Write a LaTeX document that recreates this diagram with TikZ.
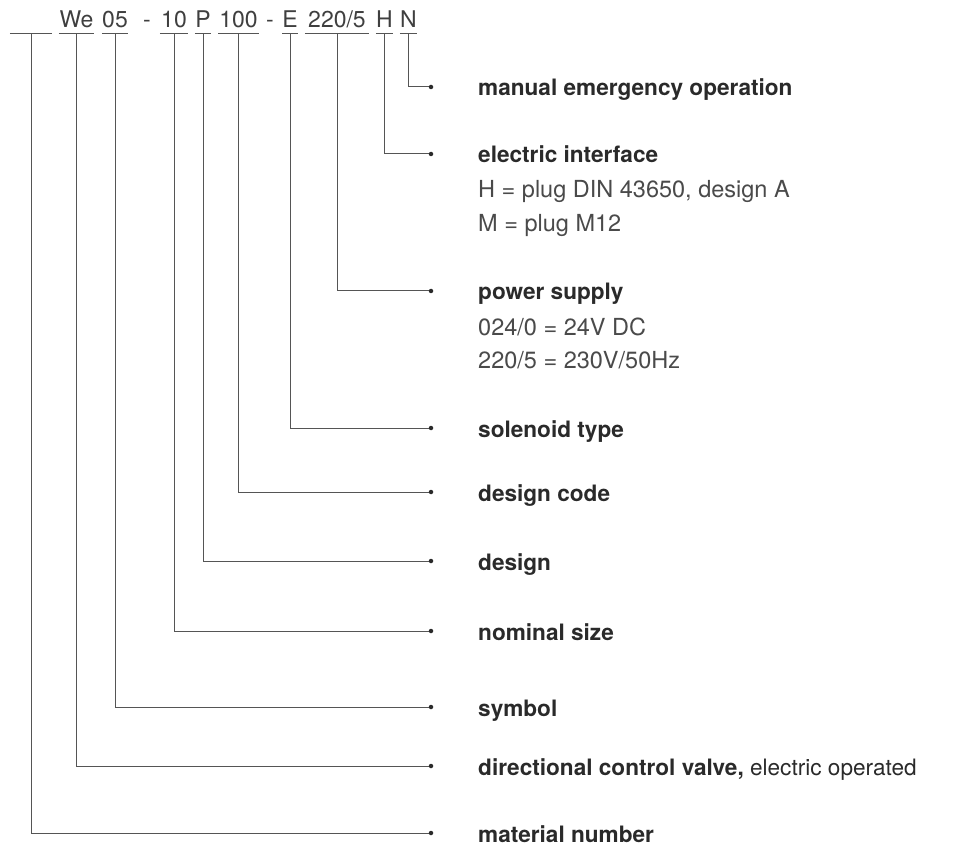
\documentclass[tikz,border=0pt]{standalone}
\usepackage{fontspec}
\setmainfont{TeX Gyre Heros}
\usepackage{tikz}
\usetikzlibrary{arrows,positioning,calc}

\definecolor{ink}{HTML}{2A2A2A}
\definecolor{wire}{HTML}{555555}

\tikzset{
	code/.style={anchor=base, inner xsep=0pt, inner ysep=5pt, text depth=0pt, text=ink!90, font=\fontsize{23}{26}\selectfont},
	title/.style={anchor=base west, inner sep=0pt, text=ink, font=\fontsize{22.6}{26}\selectfont\bfseries},
	sub/.style={anchor=base west, inner sep=0pt, text=ink!85, font=\fontsize{23.5}{26}\selectfont},
	lead/.style={draw=wire, line width=1pt},
	dot/.style={circle, fill=ink, inner sep=0pt, minimum size=4.5pt}
}

\begin{document}
\begin{tikzpicture}[x=1pt, y=-1pt]
	\useasboundingbox (0,0) rectangle (953,850);
	% type code
	\node[code, minimum width=42] (c0) at (31, 28) {};
	\node[code, minimum width=35] (c1) at (76.5, 28) {We};
	\node[code, minimum width=26] (c2) at (115, 28) {05};
	\node[code] (m1) at (147, 28) {-};
	\node[code, minimum width=28] (c3) at (174, 28) {10};
	\node[code, minimum width=16] (c4) at (203, 28) {P};
	\node[code, minimum width=40] (c5) at (238.5, 28) {100};
	\node[code] (m2) at (270, 28) {-};
	\node[code, minimum width=14] (c6) at (290, 28) {E};
	\node[code, minimum width=64] (c7) at (337, 28) {220/5};
	\node[code, minimum width=17] (c8) at (384.5, 28) {H};
	\node[code, minimum width=17] (c9) at (408.5, 28) {N};
	\foreach \i in {0,...,9}
		\draw[lead] (c\i.south west) -- (c\i.south east);

	% end points of the leads
	\coordinate (d9) at (431, 87);
	\coordinate (d8) at (431, 154);
	\coordinate (d7) at (431, 291);
	\coordinate (d6) at (431, 428);
	\coordinate (d5) at (431, 492);
	\coordinate (d4) at (431, 561);
	\coordinate (d3) at (431, 631);
	\coordinate (d2) at (431, 707);
	\coordinate (d1) at (431, 766);
	\coordinate (d0) at (431, 833);
	\foreach \i in {0,...,9}
		\draw[lead] (c\i.south) |- (d\i) node[dot] {};

	% meanings
	\node[title] (t9) at (478, 96) {manual emergency operation};
	\node[title] (t8) at (478, 163) {electric interface};
	\node[sub] (s8a) at (478, 198) {H = plug DIN 43650, design A};
	\node[sub] (s8b) at (478, 232) {M = plug M12};
	\node[title] (t7) at (478, 300) {power supply};
	\node[sub] (s7a) at (478, 335) {024/0 = 24V DC};
	\node[sub] (s7b) at (478, 368) {220/5 = 230V/50Hz};
	\node[title] (t6) at (478, 437) {solenoid type};
	\node[title] (t5) at (478, 501) {design code};
	\node[title] (t4) at (478, 570) {design};
	\node[title] (t3) at (478, 640) {nominal size};
	\node[title] (t2) at (478, 716) {symbol};
	\node[title] (t1) at (478, 775) {directional control valve, \mdseries electric operated};
	\node[title] (t0) at (478, 842) {material number};
\end{tikzpicture}
\end{document}
